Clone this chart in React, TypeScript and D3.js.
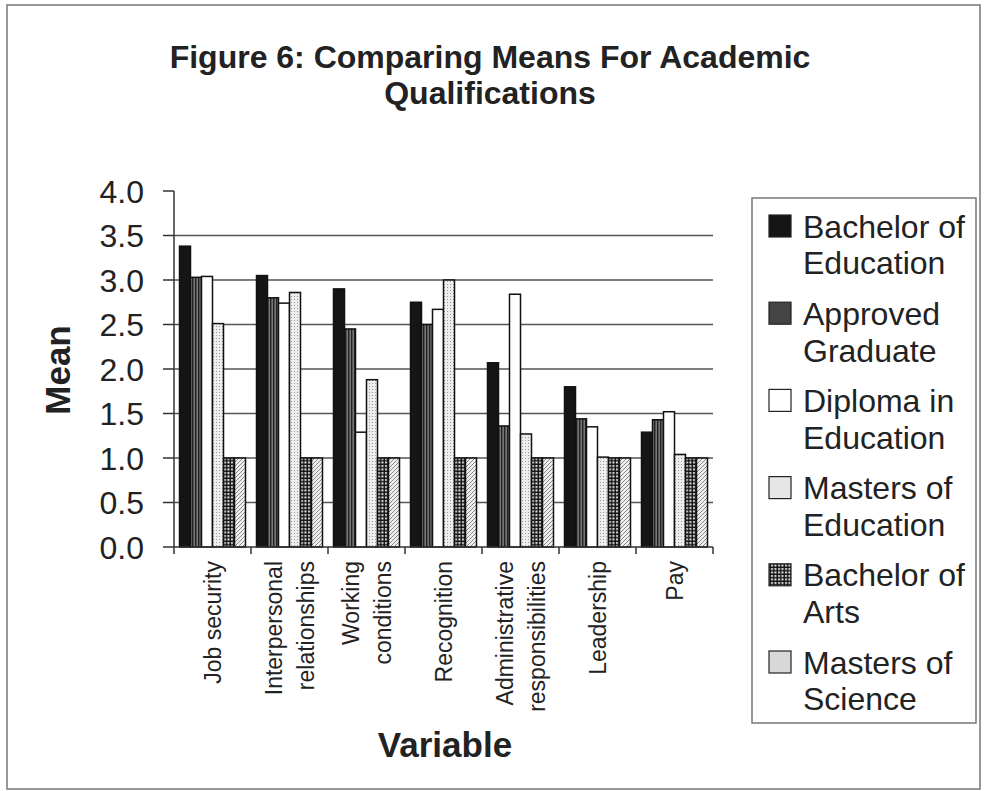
import { scaleBand, scaleLinear, range } from "d3";

// bar chart of means per qualification, scanned-Excel look

const W = 985;
const H = 791;
const MARGIN = { top: 191, right: 272, bottom: 244, left: 174 };

const categories = [
  ["Job security"],
  ["Interpersonal", "relationships"],
  ["Working", "conditions"],
  ["Recognition"],
  ["Administrative", "responsibilities"],
  ["Leadership"],
  ["Pay"],
];

const series = [
  "Bachelor of Education",
  "Approved Graduate",
  "Diploma in Education",
  "Masters of Education",
  "Bachelor of Arts",
  "Masters of Science",
];

const legendLines = [
  ["Bachelor of", "Education"],
  ["Approved", "Graduate"],
  ["Diploma in", "Education"],
  ["Masters of", "Education"],
  ["Bachelor of", "Arts"],
  ["Masters of", "Science"],
];

const bachelorEd = [3.38, 3.05, 2.9, 2.75, 2.07, 1.8, 1.29];
const approvedGrad = [3.03, 2.8, 2.45, 2.5, 1.36, 1.44, 1.43];
const diplomaEd = [3.04, 2.74, 1.29, 2.67, 2.84, 1.35, 1.52];
const mastersEd = [2.51, 2.86, 1.88, 3.0, 1.27, 1.01, 1.04];
const bachelorArts = [1.0, 1.0, 1.0, 1.0, 1.0, 1.0, 1.0];
const mastersSci = [1.0, 1.0, 1.0, 1.0, 1.0, 1.0, 1.0];

const values = [bachelorEd, approvedGrad, diplomaEd, mastersEd, bachelorArts, mastersSci];
const yTicks = [0, 0.5, 1, 1.5, 2, 2.5, 3, 3.5, 4];

const FILLS = [
  "#151515",
  "url(#pStripe)",
  "#ffffff",
  "url(#pDots)",
  "url(#pGrid)",
  "url(#pHatch)",
];
const LEGEND_FILLS = ["#151515", "#454545", "#ffffff", "#e6e6e6", "url(#pGrid)", "#d8d8d8"];

const FONT = "'Liberation Sans', Arial, sans-serif";
const INK = "#222";

const App = () => {
  const boundsW = W - MARGIN.left - MARGIN.right;
  const boundsH = H - MARGIN.top - MARGIN.bottom;
  const catKeys = categories.map((c) => c.join(" "));

  const x0 = scaleBand<string>().domain(catKeys).range([0, boundsW]).padding(0);
  const x1 = scaleBand<string>()
    .domain(series)
    .range([0, x0.bandwidth()])
    .paddingInner(0)
    .paddingOuter(0.5);
  const y = scaleLinear().domain([0, 4]).range([boundsH, 0]);

  const bars = series.map((s, si) =>
    values[si].map((v, ci) => (
      <rect
        key={s + ci}
        x={(x0(catKeys[ci]) ?? 0) + (x1(s) ?? 0)}
        y={y(v)}
        width={x1.bandwidth()}
        height={boundsH - y(v)}
        fill={FILLS[si]}
        stroke="#111"
        strokeWidth={1.5}
      />
    ))
  );

  const legendX = 752;
  const legendY = 198;

  return (
    <svg
      width={W}
      height={H}
      style={{ position: "absolute", left: 0, top: 0, background: "#fff" }}
      fontFamily={FONT}
    >
      <defs>
        <pattern id="pStripe" width="3" height="4" patternUnits="userSpaceOnUse">
          <rect width="3" height="4" fill="#777" />
          <rect width="1.4" height="4" fill="#222" />
        </pattern>
        <pattern id="pDots" width="3" height="3" patternUnits="userSpaceOnUse">
          <rect width="3" height="3" fill="#eee" />
          <rect width="1" height="1" fill="#999" />
        </pattern>
        <pattern id="pGrid" width="3.5" height="3.5" patternUnits="userSpaceOnUse">
          <rect width="3.5" height="3.5" fill="#111" />
          <rect x="1" y="1" width="2" height="2" fill="#eee" />
        </pattern>
        <pattern id="pHatch" width="4" height="4" patternUnits="userSpaceOnUse">
          <rect width="4" height="4" fill="#eee" />
          <path d="M0,4 L4,0 M-1,1 L1,-1 M3,5 L5,3" stroke="#888" strokeWidth="1" />
        </pattern>
      </defs>

      {/* outer frame */}
      <rect x={7} y={5} width={973} height={784} fill="none" stroke="#777" strokeWidth={1.5} />

      {/* title */}
      <text x={490} y={68} textAnchor="middle" fontSize={32} fontWeight="bold" fill={INK}>
        Figure 6: Comparing Means For Academic
      </text>
      <text x={490} y={104} textAnchor="middle" fontSize={32} fontWeight="bold" fill={INK}>
        Qualifications
      </text>

      <g transform={`translate(${MARGIN.left},${MARGIN.top})`}>
        {/* gridlines */}
        {yTicks
          .filter((t) => t > 0 && t < 4)
          .map((t) => (
            <line key={t} x1={0} x2={boundsW} y1={y(t)} y2={y(t)} stroke="#555" strokeWidth={1.5} />
          ))}

        {bars}

        {/* y axis */}
        <line x1={0} x2={0} y1={0} y2={boundsH} stroke="#333" strokeWidth={1.5} />
        {yTicks.map((t) => (
          <g key={t}>
            <line x1={-11} x2={0} y1={y(t)} y2={y(t)} stroke="#333" strokeWidth={1.5} />
            <text x={-30} y={y(t)} dy="0.36em" textAnchor="end" fontSize={32} fill={INK}>
              {t.toFixed(1)}
            </text>
          </g>
        ))}

        {/* x axis */}
        <line x1={0} x2={boundsW} y1={boundsH} y2={boundsH} stroke="#333" strokeWidth={1.5} />
        {range(catKeys.length + 1).map((i) => (
          <line
            key={i}
            x1={i * x0.step()}
            x2={i * x0.step()}
            y1={boundsH}
            y2={boundsH + 7}
            stroke="#333"
            strokeWidth={1.5}
          />
        ))}
        {categories.map((lines, ci) => {
          const cx = (x0(catKeys[ci]) ?? 0) + x0.bandwidth() / 2;
          const lh = 32;
          return lines.map((ln, li) => {
            const lx = cx + (li - (lines.length - 1) / 2) * lh;
            return (
              <text
                key={ln}
                transform={`translate(${lx},${boundsH + 14}) rotate(-90)`}
                textAnchor="end"
                dy="0.36em"
                fontSize={23}
                fill={INK}
              >
                {ln}
              </text>
            );
          });
        })}
      </g>

      {/* axis titles */}
      <text
        transform={`translate(57,370) rotate(-90)`}
        textAnchor="middle"
        dy="0.36em"
        fontSize={35}
        fontWeight="bold"
        fill={INK}
      >
        Mean
      </text>
      <text x={445} y={757} textAnchor="middle" fontSize={35} fontWeight="bold" fill={INK}>
        Variable
      </text>

      {/* legend */}
      <rect x={legendX} y={legendY} width={224} height={525} fill="#fff" stroke="#777" strokeWidth={1.5} />
      {legendLines.map((lines, i) => {
        const cy = 226 + i * 87.2;
        return (
          <g key={i}>
            <rect x={769} y={cy - 11} width={22} height={22} fill={LEGEND_FILLS[i]} stroke="#222" strokeWidth={1.2} />
            {lines.map((ln, li) => (
              <text key={li} x={803} y={cy + li * 36.8} dy="0.36em" fontSize={32} fill={INK}>
                {ln}
              </text>
            ))}
          </g>
        );
      })}
    </svg>
  );
};

export default App;
